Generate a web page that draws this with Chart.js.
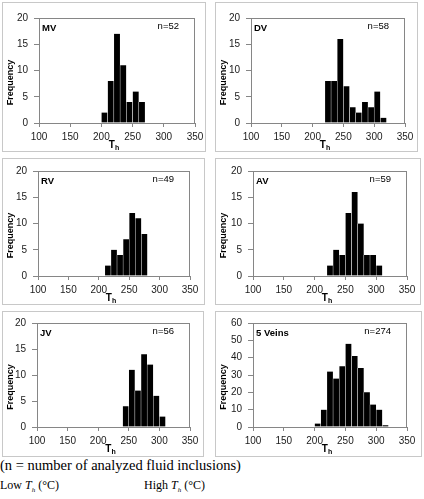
<!DOCTYPE html>
<html>
<head>
<meta charset="utf-8">
<script src="https://cdn.jsdelivr.net/npm/chart.js@4"></script>
<style>
body { margin: 0; background: #fff; width: 424px; height: 499px; position: relative; overflow: hidden; }
.panel { position: absolute; border: 1px solid #c8c8c8; box-sizing: border-box; background: #fff; }
.panel canvas { position: absolute; left: 0; top: 0; }
.cap { position: absolute; font-family: "Liberation Serif", "Times New Roman", serif; color: #000; white-space: nowrap; }
</style>
</head>
<body>
<div id="charts"></div>
<div class="cap" style="left:0;top:457px;font-size:14.5px;line-height:16px">(n = number of analyzed fluid inclusions)</div>
<div class="cap" style="left:0;top:478px;font-size:12px;line-height:14px">Low <i>T<sub style="font-size:7px">h</sub></i> (°C)</div>
<div class="cap" style="left:144px;top:478px;font-size:12px;line-height:14px">High <i>T<sub style="font-size:7px">h</sub></i> (°C)</div>

<script>
// lower edge of each 10 °C bin
const bins = [200, 210, 220, 230, 240, 250, 260, 270, 280, 290, 300, 310];
const mv  = [2, 8, 17, 11, 4, 6, 4, 0, 0, 0, 0, 0];
const dv  = [0, 0, 8, 8, 16, 7, 3, 2, 4, 3, 6, 1];
const rv  = [0, 2, 5, 4, 7, 12, 11, 8, 0, 0, 0, 0];
const av  = [0, 0, 2, 5, 4, 12, 16, 10, 4, 4, 2, 0];
const jv  = [0, 0, 0, 0, 4, 11, 7, 14, 12, 6, 2, 0];
const all = [2, 10, 32, 28, 35, 48, 41, 34, 20, 13, 10, 1];

const names = ['MV', 'DV', 'RV', 'AV', 'JV', '5 Veins'];
const counts = [52, 58, 49, 59, 56, 274];
const series = [mv, dv, rv, av, jv, all];
const yMax = [20, 20, 20, 20, 20, 60];
const yStep = [5, 5, 5, 5, 5, 10];

// panel box [x, y, w, h] and plot area [left, top, right, bottom] in page px
const boxes = [
  [2, 2, 204, 150], [215, 2, 203, 150],
  [2, 158, 203, 147], [215, 158, 206, 147],
  [2, 311, 202, 146], [215, 311, 207, 146]
];
const plots = [
  [39, 18, 195, 123], [251, 18, 405, 123],
  [38, 171, 190, 276], [253, 171, 407, 276],
  [37, 323, 190, 427], [253, 323, 407, 427]
];

const FONT = '"Liberation Sans", Arial, sans-serif';
const AXIS = '#868686';

const panelDeco = {
  id: 'panelDeco',
  beforeDatasetsDraw(chart) {
    const { ctx, chartArea: a } = chart;
    ctx.save();
    ctx.strokeStyle = AXIS;
    ctx.lineWidth = 1;
    ctx.strokeRect(Math.round(a.left) + 0.5, Math.round(a.top) + 0.5,
      Math.round(a.right - a.left) - 1, Math.round(a.bottom - a.top));
    ctx.restore();
  },
  afterDraw(chart, args, opts) {
    const { ctx, chartArea: a } = chart;
    ctx.save();
    ctx.fillStyle = '#000';
    ctx.textBaseline = 'middle';
    // vein label
    ctx.textAlign = 'left';
    ctx.font = 'bold 9.5px ' + FONT;
    ctx.fillText(opts.name, a.left + 3, a.top + 10);
    // n label
    ctx.textAlign = 'right';
    ctx.font = '9.5px ' + FONT;
    ctx.fillText('n=' + opts.n, a.right - 16, a.top + 8);
    // y title
    ctx.save();
    ctx.translate(8, (a.top + a.bottom) / 2 + 12);
    ctx.rotate(-Math.PI / 2);
    ctx.textAlign = 'center';
    ctx.font = 'bold 9px ' + FONT;
    ctx.fillText('Frequency', 0, 0);
    ctx.restore();
    // x title T with subscript h
    ctx.textBaseline = 'alphabetic';
    ctx.textAlign = 'left';
    ctx.font = 'bold 10px ' + FONT;
    const wT = ctx.measureText('T').width;
    ctx.font = 'bold 7px ' + FONT;
    const wH = ctx.measureText('h').width;
    const x0 = (a.left + a.right) / 2 - 3 - (wT + wH) / 2;
    const base = a.bottom + 25;
    ctx.font = 'bold 10px ' + FONT;
    ctx.fillText('T', x0, base);
    ctx.font = 'bold 7px ' + FONT;
    ctx.fillText('h', x0 + wT, base + 2);
    ctx.restore();
  }
};

const holder = document.getElementById('charts');

series.forEach((vals, i) => {
  const [bx, by, bw, bh] = boxes[i];
  const [pl, pt, pr, pb] = plots[i];
  const cw = bw - 2, ch = bh - 2;
  const ox = bx + 1, oy = by + 1;

  const div = document.createElement('div');
  div.className = 'panel';
  div.style.left = bx + 'px';
  div.style.top = by + 'px';
  div.style.width = bw + 'px';
  div.style.height = bh + 'px';
  const canvas = document.createElement('canvas');
  canvas.width = cw;
  canvas.height = ch;
  div.appendChild(canvas);
  holder.appendChild(div);

  const yW = pl - ox;
  const xH = oy + ch - pb;

  new Chart(canvas.getContext('2d'), {
    type: 'bar',
    data: {
      datasets: [{
        data: bins.map((b, k) => ({ x: b + 5, y: vals[k] })),
        backgroundColor: '#000',
        borderColor: '#fff',
        borderWidth: { left: 0.5, right: 0.5, top: 0, bottom: 0 },
        borderSkipped: false,
        barPercentage: 1,
        categoryPercentage: 1
      }]
    },
    options: {
      responsive: false,
      animation: false,
      events: [],
      layout: { padding: { left: 0, top: pt - oy, right: ox + cw - pr, bottom: 0 } },
      plugins: {
        legend: { display: false },
        tooltip: { enabled: false },
        panelDeco: { name: names[i], n: counts[i] }
      },
      scales: {
        x: {
          type: 'linear',
          min: 100,
          max: 350,
          offset: false,
          ticks: { stepSize: 50, padding: 4, maxRotation: 0, color: '#1a1a1a', font: { family: FONT, size: 10 } },
          grid: { offset: false, drawOnChartArea: false, tickLength: 4, color: AXIS },
          border: { color: AXIS },
          afterFit(s) { s.height = xH; s.paddingLeft = 0; s.paddingRight = 0; }
        },
        y: {
          min: 0,
          max: yMax[i],
          ticks: { stepSize: yStep[i], padding: 6, color: '#1a1a1a', font: { family: FONT, size: 10 } },
          grid: { drawOnChartArea: false, tickLength: 5, color: AXIS },
          border: { color: AXIS },
          afterFit(s) { s.width = yW; s.paddingTop = 0; s.paddingBottom = 0; }
        }
      }
    },
    plugins: [panelDeco]
  });
});
</script>
</body>
</html>
